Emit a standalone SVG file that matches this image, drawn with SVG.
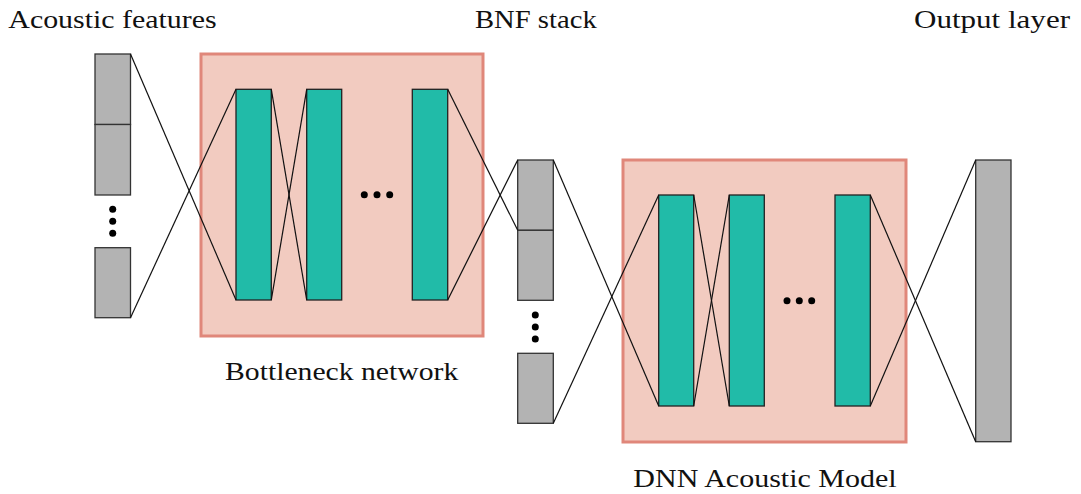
<svg xmlns="http://www.w3.org/2000/svg" width="1081" height="494" viewBox="0 0 1081 494">
<style>
.bg{fill:#F2CBC0;stroke:#E0877A;stroke-width:3}
.teal{fill:#21BBA8;stroke:#222;stroke-width:1.3}
.gray{fill:#B3B3B3;stroke:#333;stroke-width:1.3}
.ln{stroke:#111;stroke-width:1.2;fill:none}
.dot{fill:#000}
text{font-family:"Liberation Serif","DejaVu Serif",serif;font-size:25px;fill:#111}
</style>
<rect width="1081" height="494" fill="#fff"/>
<g id="bottleneck-network">
<rect class="bg" x="201" y="54" width="282" height="282"/>
</g>
<g id="dnn-acoustic-model">
<rect class="bg" x="623" y="160" width="283" height="282"/>
</g>
<g id="acoustic-features">
<rect class="gray" x="95" y="54" width="35.5" height="70.5"/>
<rect class="gray" x="95" y="124.5" width="35.5" height="70.5"/>
<circle class="dot" cx="112.7" cy="209.3" r="3.5"/>
<circle class="dot" cx="112.7" cy="221.3" r="3.5"/>
<circle class="dot" cx="112.7" cy="233.3" r="3.5"/>
<rect class="gray" x="95" y="247.7" width="35.5" height="70"/>
</g>
<g id="bn-layer1"><rect class="teal" x="236" y="89.3" width="35.3" height="210.7"/></g>
<g id="bn-layer2"><rect class="teal" x="306.7" y="89.3" width="35" height="210.7"/></g>
<g id="bn-dots">
<circle class="dot" cx="364.3" cy="194.7" r="3.5"/>
<circle class="dot" cx="377" cy="194.7" r="3.5"/>
<circle class="dot" cx="389.7" cy="194.7" r="3.5"/>
</g>
<g id="bn-layer3"><rect class="teal" x="412.3" y="89.3" width="35.4" height="210.7"/></g>
<g id="bnf-stack">
<rect class="gray" x="517.7" y="160" width="35.6" height="70.3"/>
<rect class="gray" x="517.7" y="230.3" width="35.6" height="70"/>
<circle class="dot" cx="535.3" cy="315" r="3.5"/>
<circle class="dot" cx="535.3" cy="327" r="3.5"/>
<circle class="dot" cx="535.3" cy="339" r="3.5"/>
<rect class="gray" x="517.7" y="353.3" width="35.6" height="70"/>
</g>
<g id="dnn-layer1"><rect class="teal" x="658.7" y="195" width="35" height="211"/></g>
<g id="dnn-layer2"><rect class="teal" x="729.3" y="195" width="35" height="211"/></g>
<g id="dnn-dots">
<circle class="dot" cx="787" cy="300.7" r="3.5"/>
<circle class="dot" cx="799.3" cy="300.7" r="3.5"/>
<circle class="dot" cx="811.7" cy="300.7" r="3.5"/>
</g>
<g id="dnn-layer3"><rect class="teal" x="835" y="195" width="35.3" height="211"/></g>
<g id="output-layer"><rect class="gray" x="975.7" y="160" width="35.3" height="281.7"/></g>
<g id="connectors" class="ln">
<line x1="130.5" y1="54" x2="236" y2="300"/>
<line x1="130.5" y1="317.7" x2="236" y2="89.3"/>
<line x1="271.3" y1="89.3" x2="306.7" y2="300"/>
<line x1="271.3" y1="300" x2="306.7" y2="89.3"/>
<line x1="447.7" y1="89.3" x2="517.7" y2="230.3"/>
<line x1="447.7" y1="300" x2="517.7" y2="160"/>
<line x1="553.3" y1="160" x2="658.7" y2="406"/>
<line x1="553.3" y1="423.3" x2="658.7" y2="195"/>
<line x1="693.7" y1="195" x2="729.3" y2="406"/>
<line x1="693.7" y1="406" x2="729.3" y2="195"/>
<line x1="870.3" y1="195" x2="975.7" y2="441.7"/>
<line x1="870.3" y1="406" x2="975.7" y2="160"/>
</g>
<g id="labels">
<text x="8.3" y="28" textLength="208.4" lengthAdjust="spacingAndGlyphs">Acoustic features</text>
<text x="475" y="27.7" textLength="121.7" lengthAdjust="spacingAndGlyphs">BNF stack</text>
<text x="914" y="27.7" textLength="156" lengthAdjust="spacingAndGlyphs">Output layer</text>
<text x="225" y="380" textLength="233.3" lengthAdjust="spacingAndGlyphs">Bottleneck network</text>
<text x="633.3" y="486.7" textLength="263.4" lengthAdjust="spacingAndGlyphs">DNN Acoustic Model</text>
</g>
</svg>
